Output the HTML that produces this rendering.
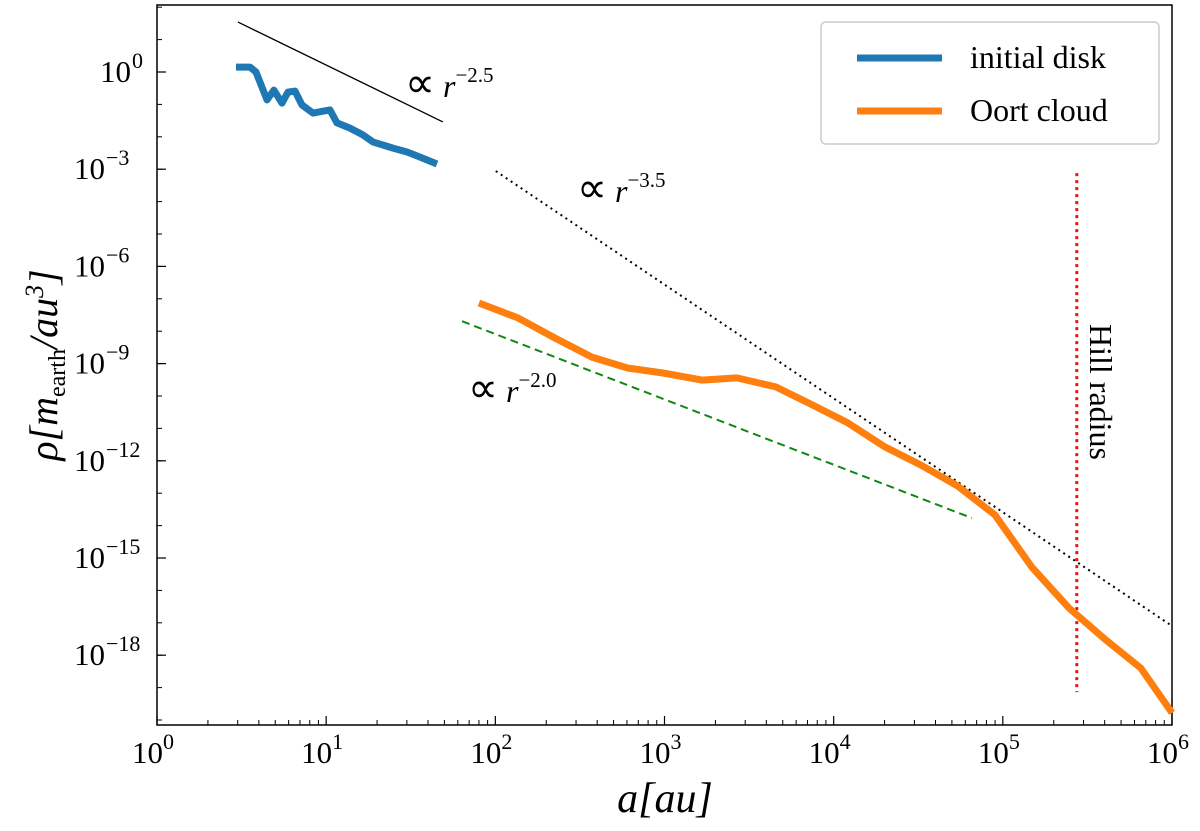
<!DOCTYPE html>
<html><head><meta charset="utf-8"><style>
body{margin:0;background:#fff;}
svg{display:block;font-family:"Liberation Serif",serif;}
</style></head><body>
<svg id="chart" width="1200" height="831">
</svg>
<script>
const diskLogA=[0.467,0.550,0.585,0.650,0.691,0.739,0.774,0.816,0.857,0.922,1.022,1.064,1.141,1.217,1.277,1.395,1.478,1.537,1.655];
const diskLogRho=[0.15,0.15,0,-0.86,-0.56,-0.96,-0.62,-0.59,-1.02,-1.27,-1.17,-1.57,-1.73,-1.94,-2.16,-2.35,-2.47,-2.59,-2.84];
const oortLogA=[1.903,2.134,2.352,2.571,2.784,2.991,3.221,3.428,3.658,3.865,4.084,4.303,4.515,4.734,4.953,5.171,5.390,5.609,5.816,6.0];
const oortLogRho=[-7.13,-7.59,-8.21,-8.80,-9.14,-9.29,-9.51,-9.44,-9.72,-10.25,-10.83,-11.57,-12.13,-12.78,-13.67,-15.28,-16.54,-17.53,-18.40,-19.78];
const xTicks=[0,1,2,3,4,5,6];
const yTicks=[0,-3,-6,-9,-12,-15,-18];
const fitA=[0.479,1.690]; const fitA_rho=[1.54,-1.54];
const fitB=[2.003,6.0]; const fitB_rho=[-3.06,-17.1];
const fitC=[1.803,4.817]; const fitC_rho=[-7.69,-13.77];
const hillLogA=5.437; const hillRho=[-3.12,-19.14];

const L=157,R=1172,T=5,B=725;
const X=v=>L+v*(R-L)/6;
const Y=v=>72-v*32.4;
const NS="http://www.w3.org/2000/svg";
const svg=document.getElementById('chart');
function mk(tag,attrs,parent){const e=document.createElementNS(NS,tag);for(const k in attrs)e.setAttribute(k,attrs[k]);(parent||svg).appendChild(e);return e;}

let fr=mk('rect',{x:L,y:T,width:R-L,height:B-T,fill:'none',stroke:'#000','stroke-width':1.5});



const xg=mk('g',{});


xTicks.forEach(t=>{
  mk('line',{x1:X(t),x2:X(t),y1:B,y2:B-9,stroke:'#000','stroke-width':1.2},xg);
  const tx=mk('text',{x:X(t)-4,y:B+38,'text-anchor':'middle','font-size':31},xg);
  tx.innerHTML='10<tspan dy="-14" font-size="22">'+t+'</tspan>';
  
  
  if(t<6)for(let m=2;m<10;m++){const xx=X(t+Math.log10(m));mk('line',{x1:xx,x2:xx,y1:B,y2:B-5,stroke:'#000','stroke-width':1},xg);}
});
const yg=mk('g',{});


for(let d=2;d>=-20;d--){if(Y(d)>T&&Y(d)<B)mk('line',{x1:L,x2:L+5,y1:Y(d),y2:Y(d),stroke:'#000','stroke-width':1},yg);}
yTicks.forEach(t=>{
  mk('line',{x1:L,x2:L+9,y1:Y(t),y2:Y(t),stroke:'#000','stroke-width':1.2},yg);
  const tx=mk('text',{x:t<0?L-52:L-26,y:Y(t)+10,'text-anchor':'end','font-size':31},yg);
  tx.innerHTML='10';
  const sup=mk('text',{x:t<0?L-51:L-25,y:Y(t)-4,'text-anchor':'start','font-size':22},yg);
  sup.textContent=(t<0?'\u2212'+(-t):''+t);
  
  
});
let xt=mk('text',{x:665,y:812,'text-anchor':'middle','font-size':42,'font-style':'italic'});
xt.textContent='a[au]';


let yt=mk('text',{x:0,y:0,'text-anchor':'middle','font-size':40,'font-style':'italic',transform:'translate(57,365) rotate(-90)'});
yt.innerHTML='ρ[m<tspan font-size="24" font-style="normal" dy="8">earth</tspan><tspan dy="-8">/au</tspan><tspan font-size="26" dy="-14">3</tspan><tspan dy="14">]</tspan>';



function poly(xs,ys,attrs,name){
  const pts=xs.map((a,i)=>X(a).toFixed(1)+','+Y(ys[i]).toFixed(1)).join(' ');
  const p=mk('polyline',Object.assign({points:pts,fill:'none'},attrs));
  
  
  return p;
}
poly(fitA,fitA_rho,{stroke:'#000','stroke-width':1.3},'fit-line-r-2.5');
poly(fitB,fitB_rho,{stroke:'#000','stroke-width':2,'stroke-dasharray':'2,4'},'fit-line-r-3.5');
poly(fitC,fitC_rho,{stroke:'#118811','stroke-width':2,'stroke-dasharray':'8,5'},'fit-line-r-2.0');
poly([hillLogA,hillLogA],hillRho,{stroke:'#ee1111','stroke-width':3,'stroke-dasharray':'3,4'},'hill-radius-line');
poly(diskLogA,diskLogRho,{stroke:'#1f77b4','stroke-width':7,'stroke-linejoin':'round'},'initial-disk-series');
poly(oortLogA,oortLogRho,{stroke:'#ff7f0e','stroke-width':7,'stroke-linejoin':'round'},'oort-cloud-series');

function label(x,y,exp,name){
  const t=mk('text',{x:x,y:y,'font-size':32});
  t.innerHTML='<tspan font-size="42">∝</tspan> <tspan font-style="italic">r</tspan><tspan font-size="21" dy="-15">−'+exp+'</tspan>';
  
  
}
label(405,97,'2.5','label-r-2.5');
label(577,202,'3.5','label-r-3.5');
label(468,402,'2.0','label-r-2.0');
let h=mk('text',{x:0,y:0,'font-size':32,'text-anchor':'middle',transform:'translate(1090,392) rotate(90)'});
h.textContent='Hill radius';



const lg=mk('g',{});


mk('rect',{x:821,y:22,width:338,height:122,rx:5,fill:'#fff',stroke:'#ccc','stroke-width':1.5},lg);
mk('line',{x1:857,x2:942,y1:58,y2:58,stroke:'#1f77b4','stroke-width':7},lg);
mk('line',{x1:857,x2:942,y1:111,y2:111,stroke:'#ff7f0e','stroke-width':7},lg);
let l1=mk('text',{x:970,y:68,'font-size':32},lg);l1.textContent='initial disk';


let l2=mk('text',{x:970,y:121,'font-size':32},lg);l2.textContent='Oort cloud';


</script>
</body></html>
